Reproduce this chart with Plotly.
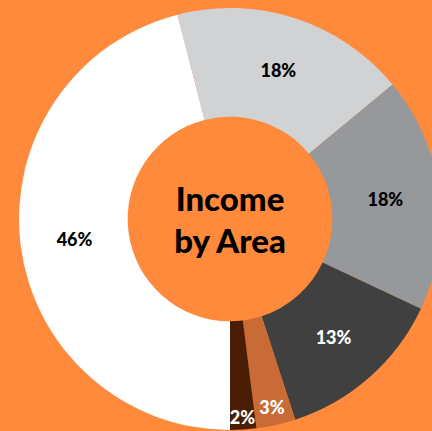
import plotly.graph_objects as go

# slice data, clockwise from 6 o'clock
labels = ["Area A", "Area B", "Area C", "Area D", "Area E", "Area F"]
shares = [46, 18, 18, 13, 3, 2]
slice_colors = ["#FFFFFF", "#D1D2D4", "#97989B", "#404040", "#C96B37", "#4A1D05"]
text_colors = ["#000000", "#000000", "#000000", "#FFFFFF", "#FFFFFF", "#FFFFFF"]

ORANGE = "#FF8A3C"
FONT = "Lato Black, Lato, sans-serif"
W, H = 462, 462
cx, cy, R = 230, 219, 211  # pie centre / radius in px (top-left origin)

fig = go.Figure(
    go.Pie(
        labels=labels,
        values=shares,
        sort=False,
        direction="clockwise",
        rotation=180,
        hole=0.485,
        marker=dict(colors=slice_colors, line=dict(width=0)),
        texttemplate="%{value}%",
        textinfo="text",
        textposition="inside",
        insidetextorientation="horizontal",
        textfont=dict(family=FONT, size=18, color=text_colors, weight=900),
        title=dict(
            text="Income<br>by Area",
            position="middle center",
            font=dict(family=FONT, size=33, color="#000000", weight=900),
        ),
        domain=dict(
            x=[(cx - R) / W, (cx + R) / W],
            y=[1 - (cy + R) / H, 1 - (cy - R) / H],
        ),
        showlegend=False,
        hoverinfo="skip",
    )
)

fig.update_layout(
    width=W,
    height=H,
    margin=dict(l=0, r=0, t=0, b=0),
    paper_bgcolor=ORANGE,
    plot_bgcolor=ORANGE,
    uniformtext=dict(minsize=18, mode="show"),
)

fig.write_html(
    "out.html",
    config={"displayModeBar": False},
    post_script="document.body.style.margin='0';document.body.style.overflow='hidden';",
)
